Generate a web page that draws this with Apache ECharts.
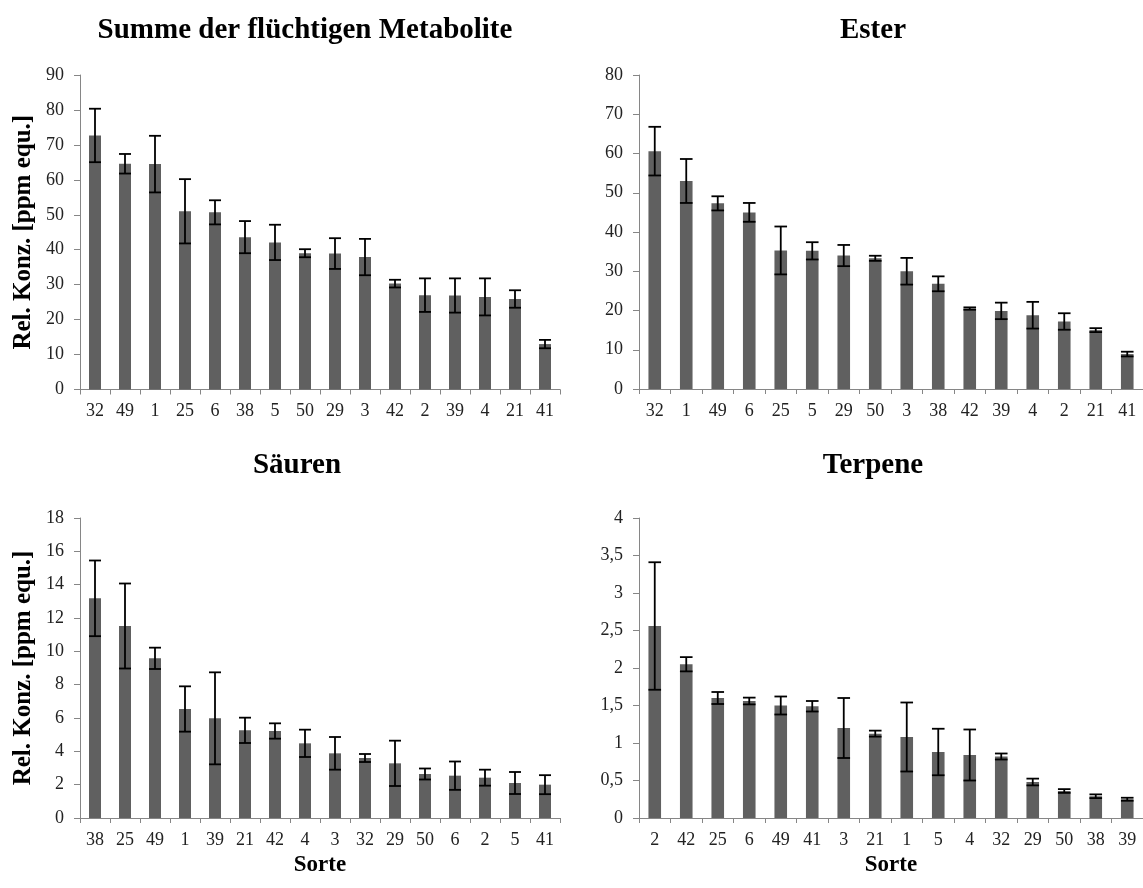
<!DOCTYPE html>
<html>
<head>
<meta charset="utf-8">
<script src="https://cdn.jsdelivr.net/npm/echarts@6/dist/echarts.min.js"></script>
<style>
html,body{margin:0;padding:0;background:#fff;}
#chart{width:1143px;height:888px;}
</style>
</head>
<body>
<div id="chart"></div>
<script>
// ---- data ----
const titles = ['Summe der flüchtigen Metabolite', 'Ester', 'Säuren', 'Terpene'];
const yAxisName = 'Rel. Konz. [ppm equ.]';
const xAxisName = 'Sorte';

const catsSumme = ['32','49','1','25','6','38','5','50','29','3','42','2','39','4','21','41'];
const valsSumme = [72.7, 64.6, 64.5, 51.0, 50.7, 43.6, 42.1, 39.0, 38.9, 37.9, 30.3, 27.0, 26.9, 26.5, 25.9, 13.0];
const errsSumme = [7.65, 2.8, 8.1, 9.2, 3.45, 4.6, 5.05, 1.15, 4.4, 5.2, 1.1, 4.8, 4.9, 5.3, 2.5, 1.2];

const catsEster = ['32','1','49','6','25','5','29','50','3','38','42','39','4','2','21','41'];
const valsEster = [60.6, 53.0, 47.3, 45.0, 35.3, 35.2, 34.0, 33.3, 30.0, 26.8, 20.5, 19.9, 18.8, 17.2, 15.0, 8.9];
const errsEster = [6.2, 5.6, 1.8, 2.4, 6.1, 2.2, 2.7, 0.65, 3.4, 1.9, 0.3, 2.1, 3.4, 2.1, 0.5, 0.6];

const catsSaeuren = ['38','25','49','1','39','21','42','4','3','32','29','50','6','2','5','41'];
const valsSaeuren = [13.18, 11.52, 9.58, 6.54, 5.98, 5.26, 5.22, 4.48, 3.88, 3.6, 3.28, 2.64, 2.54, 2.42, 2.1, 2.0];
const errsSaeuren = [2.27, 2.55, 0.64, 1.36, 2.76, 0.76, 0.46, 0.82, 0.98, 0.24, 1.36, 0.33, 0.85, 0.48, 0.66, 0.57];

const catsTerpene = ['2','42','25','6','49','41','3','21','1','5','4','32','29','50','38','39'];
const valsTerpene = [2.56, 2.05, 1.60, 1.56, 1.50, 1.49, 1.20, 1.125, 1.08, 0.88, 0.84, 0.82, 0.48, 0.36, 0.29, 0.25];
const errsTerpene = [0.85, 0.095, 0.08, 0.045, 0.12, 0.07, 0.40, 0.04, 0.46, 0.31, 0.34, 0.04, 0.045, 0.025, 0.025, 0.02];

const yMax = [90, 80, 18, 4];
const yInterval = [10, 10, 2, 0.5];

// ---- chart ----
const FONT = '"Liberation Serif", "Times New Roman", serif';
const AXIS_COLOR = '#868686';
const BAR_COLOR = '#606060';

const panels = [
  {cats: catsSumme, vals: valsSumme, errs: errsSumme},
  {cats: catsEster, vals: valsEster, errs: errsEster},
  {cats: catsSaeuren, vals: valsSaeuren, errs: errsSaeuren},
  {cats: catsTerpene, vals: valsTerpene, errs: errsTerpene}
];

const grids = [
  {left: 80, top: 75, width: 480, height: 314.5},
  {left: 639, top: 75, width: 510, height: 314},
  {left: 80, top: 518, width: 480, height: 300},
  {left: 639, top: 518, width: 510, height: 300}
];

const titlePos = [[305, 31], [873, 31], [297, 466], [873, 466]];

function errRender(params, api) {
  const i = api.value(0), v = api.value(1), e = api.value(2);
  const hi = api.coord([i, v + e]);
  const lo = api.coord([i, v - e]);
  const w = api.size([1, 0])[0] * 0.2;
  const st = {stroke: '#000', lineWidth: 1.8};
  return {
    type: 'group',
    children: [
      {type: 'line', shape: {x1: hi[0], y1: hi[1], x2: lo[0], y2: lo[1]}, style: st},
      {type: 'line', shape: {x1: hi[0] - w, y1: hi[1], x2: hi[0] + w, y2: hi[1]}, style: st},
      {type: 'line', shape: {x1: lo[0] - w, y1: lo[1], x2: lo[0] + w, y2: lo[1]}, style: st}
    ]
  };
}

const option = {
  backgroundColor: '#fff',
  animation: false,
  textStyle: {fontFamily: FONT},
  grid: grids,
  xAxis: panels.map((p, k) => ({
    type: 'category',
    gridIndex: k,
    data: p.cats,
    name: k >= 2 ? xAxisName : '',
    nameLocation: 'middle',
    nameGap: 36,
    nameTextStyle: {fontFamily: FONT, fontSize: 23, fontWeight: 'bold', color: '#000'},
    axisLine: {lineStyle: {color: AXIS_COLOR, width: 1}},
    axisTick: {show: true, length: 5, lineStyle: {color: AXIS_COLOR}},
    axisLabel: {interval: 0, fontFamily: FONT, fontSize: 18, color: '#222', margin: 13},
    splitLine: {show: false}
  })),
  yAxis: panels.map((p, k) => ({
    type: 'value',
    gridIndex: k,
    min: 0,
    max: yMax[k],
    interval: yInterval[k],
    name: (k % 2 === 0) ? yAxisName : '',
    nameLocation: 'middle',
    nameGap: 44,
    nameRotate: 90,
    nameTextStyle: {fontFamily: FONT, fontSize: 25, fontWeight: 'bold', color: '#000'},
    axisLine: {show: true, lineStyle: {color: AXIS_COLOR, width: 1}},
    axisTick: {show: true, length: 6, lineStyle: {color: AXIS_COLOR}},
    axisLabel: {fontFamily: FONT, fontSize: 18, color: '#222', margin: 16,
      formatter: v => String(v).replace('.', ',')},
    splitLine: {show: false}
  })),
  series: panels.flatMap((p, k) => ([
    {
      type: 'bar',
      xAxisIndex: k, yAxisIndex: k,
      data: p.vals,
      barWidth: '40%',
      itemStyle: {color: BAR_COLOR},
      z: 2
    },
    {
      type: 'custom',
      xAxisIndex: k, yAxisIndex: k,
      data: p.cats.map((c, i) => [i, p.vals[i], p.errs[i]]),
      renderItem: errRender,
      clip: false,
      z: 3
    }
  ])),
  graphic: titles.map((t, k) => ({
    type: 'text',
    x: titlePos[k][0],
    y: titlePos[k][1],
    style: {
      text: t,
      font: 'bold 29px ' + FONT,
      fill: '#000',
      textAlign: 'center',
      textVerticalAlign: 'middle'
    }
  }))
};

const chart = echarts.init(document.getElementById('chart'), null, {renderer: 'canvas', width: 1143, height: 888});
chart.setOption(option);
</script>
</body>
</html>
